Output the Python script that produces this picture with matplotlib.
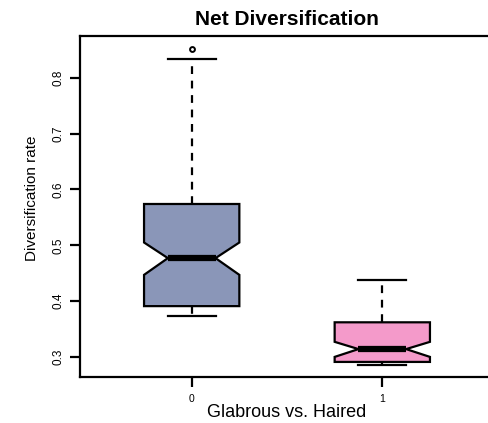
import matplotlib.pyplot as plt

plt.rcParams['font.family'] = ['Liberation Sans', 'DejaVu Sans']

# Summary statistics per group (rates read as five-number summaries + notch limits)
groups = ['0', '1']
q1 = [0.391, 0.291]
medians = [0.477, 0.314]
q3 = [0.574, 0.362]
whisker_lo = [0.373, 0.286]
whisker_hi = [0.834, 0.438]
notch_lo = [0.447, 0.300]
notch_hi = [0.505, 0.327]
outliers = [[0.852], []]
fill_colors = ['#8a96b8', '#f49aca']

stats = []
for i, name in enumerate(groups):
    stats.append({
        'label': name,
        'q1': q1[i], 'med': medians[i], 'q3': q3[i],
        'whislo': whisker_lo[i], 'whishi': whisker_hi[i],
        'cilo': notch_lo[i], 'cihi': notch_hi[i],
        'fliers': outliers[i],
    })

fig = plt.figure(figsize=(4.88, 4.23), dpi=100)
# axes run past the right edge of the figure
ax = fig.add_axes([80 / 488, 1 - 377 / 423, (494 - 80) / 488, (377 - 36) / 423])

bp = ax.bxp(stats, positions=[0, 1], widths=0.5, shownotches=True,
            patch_artist=True,
            boxprops=dict(linewidth=1.6, edgecolor='black'),
            medianprops=dict(color='black', linewidth=4.5, solid_capstyle='butt'),
            whiskerprops=dict(color='black', linewidth=1.6, linestyle=(0, (3.5, 3))),
            capprops=dict(color='black', linewidth=1.6),
            flierprops=dict(marker='o', markersize=3.5, markerfacecolor='none',
                            markeredgecolor='black', markeredgewidth=1.4),
            capwidths=0.25)
for patch, c in zip(bp['boxes'], fill_colors):
    patch.set_facecolor(c)

ax.set_xlim(-0.586, 1.586)
ax.set_ylim(0.264, 0.875)
ax.set_yticks([0.3, 0.4, 0.5, 0.6, 0.7, 0.8])
ax.set_yticklabels(['0.3', '0.4', '0.5', '0.6', '0.7', '0.8'], rotation=90, va='center')
ax.set_xticks([0, 1])
ax.set_xticklabels(groups)
ax.tick_params(axis='both', width=1.6, length=7)
ax.tick_params(axis='y', labelsize=8.5, pad=4)
ax.tick_params(axis='x', labelsize=7.5, pad=5)

for side in ['left', 'top', 'bottom', 'right']:
    ax.spines[side].set_linewidth(1.6)

ax.set_title('Net Diversification', fontsize=15, fontweight='bold', pad=8)
ax.set_ylabel('Diversification rate', fontsize=11)
ax.yaxis.set_label_coords(-0.099, 0.525)
ax.set_xlabel('Glabrous vs. Haired', fontsize=13, labelpad=0)

fig.savefig('out.png', dpi=100)
